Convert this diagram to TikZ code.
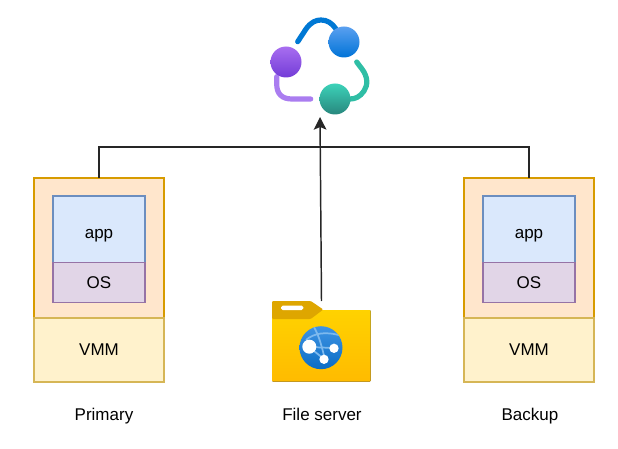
\documentclass[tikz,border=0pt]{standalone}
\usepackage{fontspec}
\setmainfont{Liberation Sans}
\usetikzlibrary{arrows.meta,positioning}
\definecolor{peachfill}{HTML}{FFE6CC}
\definecolor{peachline}{HTML}{D79B00}
\definecolor{appfill}{HTML}{DAE8FC}
\definecolor{appline}{HTML}{6C8EBF}
\definecolor{osfill}{HTML}{E1D5E7}
\definecolor{osline}{HTML}{9673A6}
\definecolor{vmmfill}{HTML}{FFF2CC}
\definecolor{vmmline}{HTML}{D6B656}
\definecolor{foldertop}{HTML}{FFD200}
\definecolor{folderbottom}{HTML}{FFBB00}
\definecolor{foldertab}{HTML}{DEA600}
\definecolor{globetop}{HTML}{3F94E4}
\definecolor{globebottom}{HTML}{0A6CC4}
\definecolor{globeline}{HTML}{7DB9EE}
\tikzset{every node/.style={font=\fontsize{12.75}{15}\selectfont,outer sep=0pt,inner sep=0pt}}
\tikzset{guest/.style={rectangle,draw=peachline,fill=peachfill,line width=1.1pt,minimum width=97.5pt,minimum height=105pt}}
\tikzset{vmm/.style={rectangle,draw=vmmline,fill=vmmfill,line width=1.1pt,minimum width=97.5pt,minimum height=48pt}}
\tikzset{app/.style={rectangle,draw=appline,fill=appfill,line width=0.9pt,minimum width=69pt,minimum height=50pt,text height=14.2pt,text depth=0pt}}
\tikzset{os/.style={rectangle,draw=osline,fill=osfill,line width=0.9pt,minimum width=69pt,minimum height=30pt}}
\tikzset{caption/.style={anchor=base}}
\tikzset{link/.style={line width=1.1pt,black!85}}
\tikzset{toArrow/.style={-{Stealth[length=9.5pt,width=9.5pt,inset=2pt]},line width=1.1pt,black!85}}
\tikzset{ring/.style={line width=3.9pt,line cap=round}}
\begin{document}
\begin{tikzpicture}[x=0.75pt,y=-0.75pt]
\useasboundingbox (0,0) rectangle (618,449);

\begin{scope}[node distance=0pt]
	\node (guest1) [guest] at (99,248) {} ;
	\node (vmm1) [vmm, below =of guest1] {VMM} ;
	\node (app1) [app, below =13.5pt of guest1.north] {app} ;
	\node (os1) [os, below =of app1] {OS} ;
	\node (guest2) [guest] at (529,248) {} ;
	\node (vmm2) [vmm, below =of guest2] {VMM} ;
	\node (app2) [app, below =13.5pt of guest2.north] {app} ;
	\node (os2) [os, below =of app2] {OS} ;
\end{scope}

\node (primary) [caption] at (104,420) {Primary} ;
\node (server) [caption] at (322,420) {File server} ;
\node (backup) [caption] at (530,420) {Backup} ;

\node (folder) [rectangle,minimum width=74pt,minimum height=60.75pt] at (321.5,341.5) {} ;
\fill [rounded corners=0.8pt,top color=foldertop,bottom color=folderbottom] (272,310) rectangle (370.7,381.7) ;
\fill [rounded corners=0.8pt,foldertab] (272,319) -- (272,301) -- (310.7,301) -- (323.3,309.5) -- (310.7,319) -- cycle ;
\fill [white,rounded corners=1.2pt] (281,305.7) rectangle (303.3,310) ;
\begin{scope}
	\clip (321,347.7) circle (21.5) ;
	\shade [top color=globetop,bottom color=globebottom] (299,326) rectangle (343,370) ;
	\draw [globeline,line width=1.3pt] (312,324) .. controls (317,331) and (321,342) .. (325,360) ;
	\draw [globeline,line width=1.3pt] (306,340) .. controls (314,333) and (326,331) .. (342,336) ;
	\draw [globeline,line width=1.3pt] (309,347) -- (334,348) (309,347) -- (324,359) ;
\end{scope}
\node (dot1) [circle,fill=white,minimum size=10.5pt] at (309.3,346.7) {} ;
\node (dot2) [circle,fill=white,minimum size=7pt] at (334,348.3) {} ;
\node (dot3) [circle,fill=white,minimum size=7pt] at (324,359.3) {} ;

\node (cluster) [rectangle,minimum width=78pt,minimum height=73pt] at (320,65) {} ;
\coordinate (clusterin) at (320,117) ;
\coordinate (hub) at (320,147) ;
\draw [ring,color={rgb,255:red,0;green,120;blue,212}] (297.7,41.7) -- (306,29) .. controls (311,22) and (316,20) .. (321,20) .. controls (327,20) and (332,23) .. (336,29) ;
\draw [ring,color={rgb,255:red,47;green,190;blue,165}] (356.7,62) -- (362,69) .. controls (368,77) and (368,85) .. (364,91) .. controls (360,97) and (355,99) .. (350,99) ;
\draw [ring,color={rgb,255:red,170;green,125;blue,240}] (276.7,76.7) -- (276.7,84) .. controls (276.7,94) and (282,99) .. (292,99) -- (310.7,99) ;
\shade [top color={rgb,255:red,168;green,110;blue,240},bottom color={rgb,255:red,115;green,60;blue,215}] (286,62) circle (15.5) ;
\shade [top color={rgb,255:red,90;green,160;blue,240},bottom color={rgb,255:red,0;green,115;blue,215}] (344,42) circle (15.5) ;
\shade [top color={rgb,255:red,60;green,210;blue,185},bottom color={rgb,255:red,40;green,135;blue,125}] (335,99) circle (15.5) ;

\draw [link] (guest1.north) |- (hub) ;
\draw [link] (guest2.north) |- (hub) ;
\draw [toArrow] (folder.north) -- (clusterin) ;
\end{tikzpicture}
\end{document}
